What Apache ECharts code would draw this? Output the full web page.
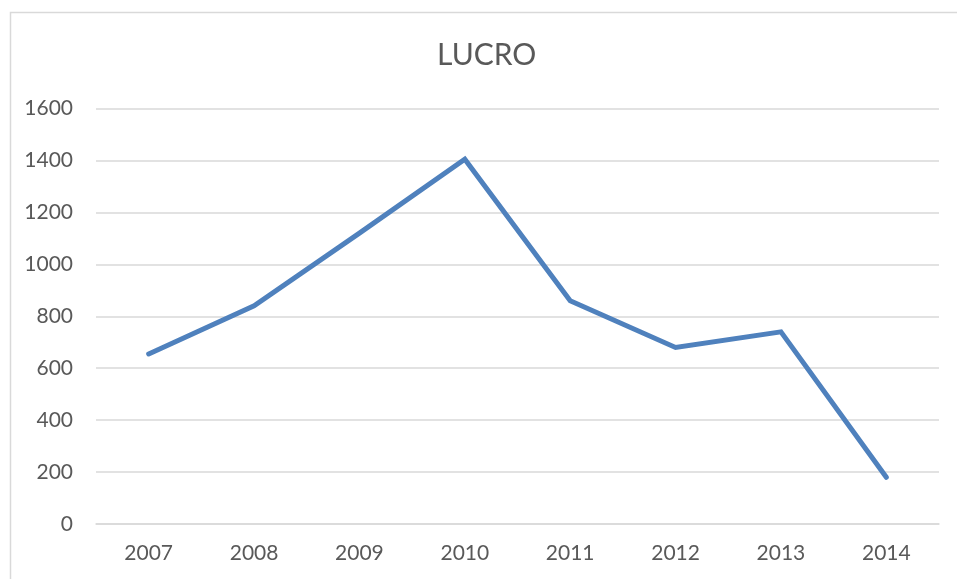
<!DOCTYPE html>
<html>
<head>
<meta charset="utf-8">
<script src="https://cdn.jsdelivr.net/npm/echarts@6/dist/echarts.min.js"></script>
<style>
html,body{margin:0;padding:0;background:#fff;}
#chart{width:957px;height:579px;}
</style>
</head>
<body>
<div id="chart"></div>
<script>
const titleText = 'LUCRO';
const categories = ['2007','2008','2009','2010','2011','2012','2013','2014'];
const lucro = [655, 840, 1120, 1405, 860, 680, 740, 180];
const yMin = 0, yMax = 1600, yStep = 200;

const chart = echarts.init(document.getElementById('chart'), null, {renderer:'canvas'});
const font = 'Lato, "Open Sans", sans-serif';
chart.setOption({
  animation:false,
  backgroundColor:'#ffffff',
  graphic:[{
    type:'rect', left:8, top:10, silent:true,
    shape:{x:0,y:0,width:980,height:620},
    style:{fill:'none', stroke:'#d9d9d9', lineWidth:1.5}
  }],
  title:{
    text:titleText, left:437, top:40, padding:0,
    textStyle:{fontFamily:font, fontSize:30, fontWeight:'normal', color:'#595959'}
  },
  grid:{left:96, right:18, top:108.5, bottom:55, containLabel:false},
  xAxis:{
    type:'category', data:categories, boundaryGap:true,
    axisLine:{show:true, lineStyle:{color:'#d9d9d9', width:1.5}},
    axisTick:{show:false},
    axisLabel:{fontFamily:font, fontSize:21, color:'#595959', margin:19}
  },
  yAxis:{
    type:'value', min:yMin, max:yMax, interval:yStep,
    axisLine:{show:false}, axisTick:{show:false},
    axisLabel:{fontFamily:font, fontSize:21, color:'#595959', margin:23,
      formatter:function(v){return String(v);}},
    splitLine:{lineStyle:{color:'#d9d9d9', width:1.5}}
  },
  series:[{
    type:'line', data:lucro, symbol:'none',
    lineStyle:{color:'#4f81bd', width:5, cap:'round', join:'miter'},
    itemStyle:{color:'#4f81bd'}
  }]
});
</script>
</body>
</html>
